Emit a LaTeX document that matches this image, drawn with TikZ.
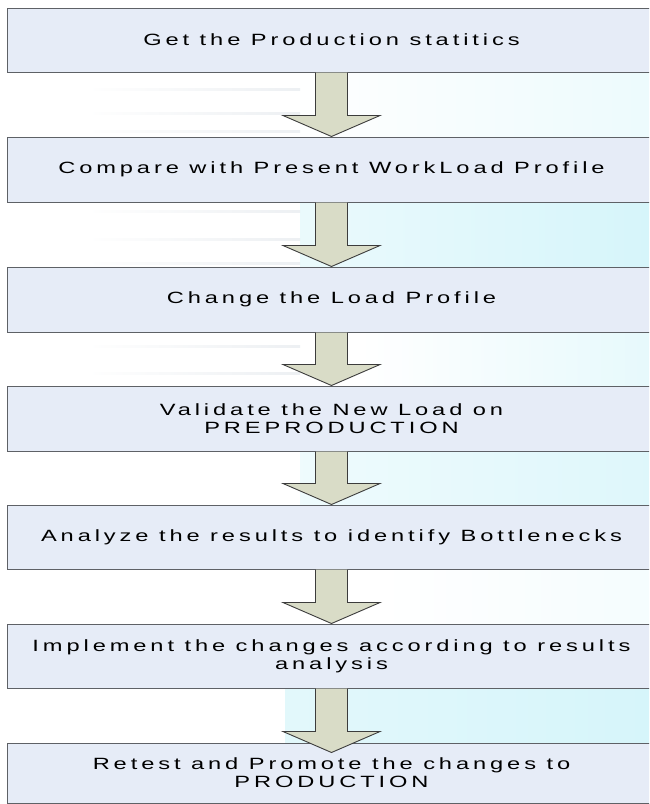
\documentclass[tikz,border=0pt]{standalone}
\usepackage{fontspec}
\setmainfont{Liberation Sans}
\newfontfamily\boxfont{Liberation Sans}[FakeStretch=1.45,LetterSpace=24]
\usetikzlibrary{calc}

\definecolor{boxfill}{HTML}{E6ECF7}
\definecolor{boxline}{HTML}{5E6166}
\definecolor{arrowfill}{HTML}{D9DCC7}
\definecolor{arrowline}{HTML}{3C3C3C}
\definecolor{wmcyan}{HTML}{D6F5FA}
\definecolor{wmstreak}{HTML}{DCE2E8}

\tikzset{
  stepbox/.style={draw=boxline, line width=1pt, fill=boxfill,
    minimum width=649pt, inner sep=0pt, align=center,
    font=\boxfont\fontsize{16.3}{17.8}\selectfont, text=black},
  arrowbody/.style={fill=arrowfill},
  arrowedge/.style={draw=arrowline, line width=0.9pt, line join=miter},
}

% block arrow from the bottom of one box to the top of the next;
% #3 = how far the tip reaches into the lower box
\newcommand\flowarrow[3]{%
  \fill[arrowbody] ($(#1.south)+(-16,0)$) -- ($(#2.north)+(-16,#3-21)$)
    -- ($(#2.north)+(-48.5,#3-21)$) -- ($(#2.north)+(0,#3)$)
    -- ($(#2.north)+(48.5,#3-21)$) -- ($(#2.north)+(16,#3-21)$)
    -- ($(#1.south)+(16,0)$) -- cycle;
  \draw[arrowedge] ($(#1.south)+(-16,0)$) -- ($(#2.north)+(-16,#3-21)$)
    -- ($(#2.north)+(-48.5,#3-21)$) -- ($(#2.north)+(0,#3)$)
    -- ($(#2.north)+(48.5,#3-21)$) -- ($(#2.north)+(16,#3-21)$)
    -- ($(#1.south)+(16,0)$);
}

\begin{document}
\begin{tikzpicture}[x=1pt,y=-1pt]
  \useasboundingbox (0,0) rectangle (649,804);
  \clip (0,0) rectangle (649,804);
  \fill[white] (0,0) rectangle (649,804);

  % faint watermark behind the chart
  \shade[left color=white, right color=wmcyan!45] (290,72) rectangle (649,137);
  \shade[left color=wmcyan!50, right color=wmcyan] (300,202) rectangle (649,267);
  \shade[left color=white, right color=wmcyan!60] (360,332) rectangle (649,386);
  \shade[left color=wmcyan!40, right color=wmcyan!80] (300,451) rectangle (649,505);
  \shade[left color=white, right color=wmcyan!25] (380,569) rectangle (649,624);
  \shade[left color=wmcyan!70, right color=wmcyan] (285,688) rectangle (649,743);
  \foreach \yy in {88,112,130,210,238,262,345,372}{
    \shade[left color=white, right color=wmstreak, opacity=0.5] (90,\yy) rectangle (300,\yy+2);
  }

  % process steps
  \node[stepbox, minimum height=64pt] (b1) at (331.5,40)
    {Get the Production statitics};
  \node[stepbox, minimum height=65pt] (b2) at (331.5,169.5)
    {Compare with Present WorkLoad Profile};
  \node[stepbox, minimum height=65pt] (b3) at (331.5,299.5)
    {Change the Load Profile};
  \node[stepbox, minimum height=65pt] (b4) at (331.5,418.5)
    {Validate the New Load on\\PREPRODUCTION};
  \node[stepbox, minimum height=64pt] (b5) at (331.5,537)
    {Analyze the results to identify Bottlenecks};
  \node[stepbox, minimum height=64pt] (b6) at (331.5,656)
    {Implement the changes according to results\\analysis};
  \node[stepbox, minimum height=60pt] (b7) at (331.5,773)
    {Retest and Promote the changes to\\PRODUCTION};

  % connecting block arrows
  \flowarrow{b1}{b2}{0}
  \flowarrow{b2}{b3}{0}
  \flowarrow{b3}{b4}{0}
  \flowarrow{b4}{b5}{0}
  \flowarrow{b5}{b6}{0}
  \flowarrow{b6}{b7}{10}
\end{tikzpicture}
\end{document}
